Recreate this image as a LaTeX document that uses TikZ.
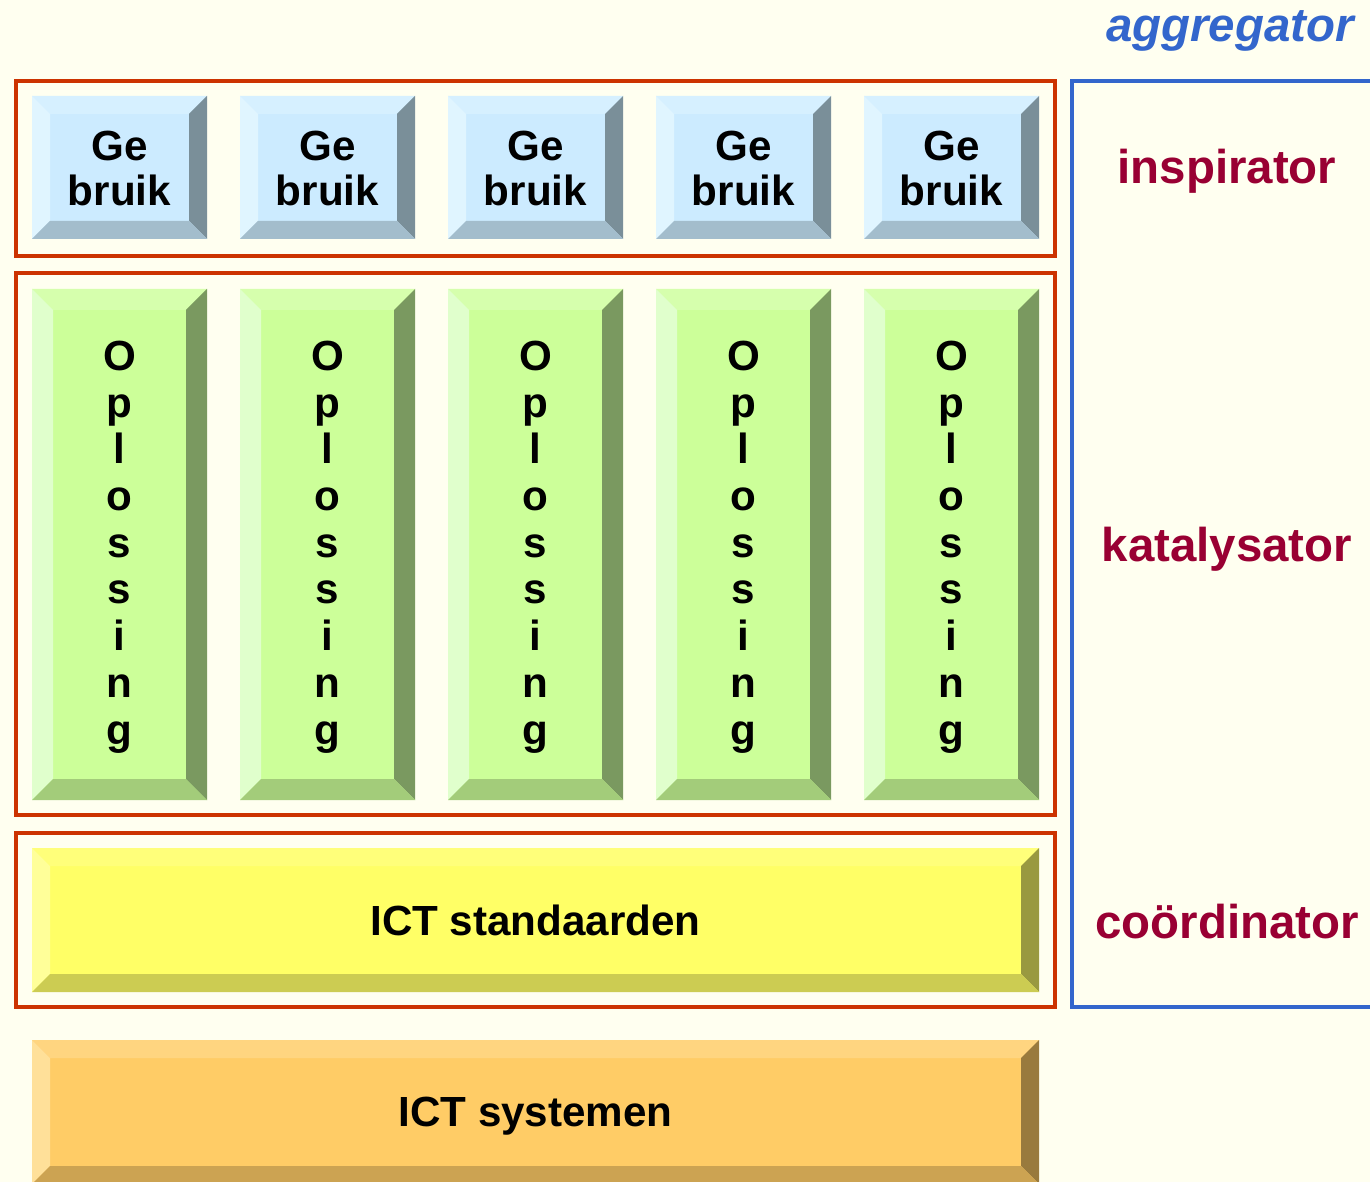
\documentclass[tikz,border=0pt]{standalone}
\usepackage{fontspec}
\setmainfont{Liberation Sans}

\definecolor{paper}{HTML}{FFFFF0}
\definecolor{framered}{HTML}{CC3300}
\definecolor{frameblue}{HTML}{3366CC}
\definecolor{rolered}{HTML}{990033}
% bevel colours: face, top, left, right, bottom
\definecolor{gbface}{HTML}{CCEBFF}\definecolor{gbtop}{HTML}{D6F0FF}\definecolor{gbleft}{HTML}{E0F5FF}
\definecolor{gbright}{HTML}{7A8F99}\definecolor{gbbot}{HTML}{A3BDCC}
\definecolor{opface}{HTML}{CCFF99}\definecolor{optop}{HTML}{D6FFAD}\definecolor{opleft}{HTML}{E0FFCC}
\definecolor{opright}{HTML}{7A9960}\definecolor{opbot}{HTML}{A3CC7A}
\definecolor{stface}{HTML}{FFFF66}\definecolor{sttop}{HTML}{FFFF7A}\definecolor{stleft}{HTML}{FFFF99}
\definecolor{stright}{HTML}{999940}\definecolor{stbot}{HTML}{CCCC52}
\definecolor{syface}{HTML}{FFCC66}\definecolor{sytop}{HTML}{FFD580}\definecolor{syleft}{HTML}{FFE099}
\definecolor{syright}{HTML}{997A3D}\definecolor{sybot}{HTML}{CCA352}

% #1,#2 top left, #3,#4 bottom right, #5 bevel width, #6 colour prefix
\newcommand{\bevelbox}[6]{%
  \fill[#6face] (#1,#2) rectangle (#3,#4);
  \fill[#6top] (#1,#2) -- (#3,#2) -- (#3-#5,#2+#5) -- (#1+#5,#2+#5) -- cycle;
  \fill[#6left] (#1,#2) -- (#1+#5,#2+#5) -- (#1+#5,#4-#5) -- (#1,#4) -- cycle;
  \fill[#6right] (#3,#2) -- (#3,#4) -- (#3-#5,#4-#5) -- (#3-#5,#2+#5) -- cycle;
  \fill[#6bot] (#1,#4) -- (#1+#5,#4-#5) -- (#3-#5,#4-#5) -- (#3,#4) -- cycle;
}

\tikzset{
  layerframe/.style={draw=framered, line width=2.3pt},
  keytext/.style={font=\bfseries\fontsize{24}{26.6}\selectfont, align=center, inner sep=0pt},
  roletext/.style={font=\bfseries\fontsize{27}{30}\selectfont, text=rolered, inner sep=0pt},
}

\begin{document}
\begin{tikzpicture}[x=0.02cm, y=-0.02cm]
    \useasboundingbox (0,0) rectangle (1370,1182);
    \fill[paper] (0,0) rectangle (1370,1182);

    % layers
    \draw[layerframe] (16,81) rectangle (1055,256);
    \draw[layerframe] (16,273) rectangle (1055,815);
    \draw[layerframe] (16,833) rectangle (1055,1007);
    \draw[draw=frameblue, line width=2.3pt] (1390,81) -- (1072,81) -- (1072,1007) -- (1390,1007);

    \foreach \i/\x in {1/32,2/240,3/448,4/656,5/864} {
        \bevelbox{\x}{96}{\x+175}{239}{18}{gb}
        \node[keytext, font=\bfseries\fontsize{24}{25.6}\selectfont] (gebruik\i) at (\x+87.5,168.5) {Ge\\bruik};
        \bevelbox{\x}{289}{\x+175}{800}{21}{op}
        \node[keytext] (oplossing\i) at (\x+87.5,547) {O\\p\\l\\o\\s\\s\\i\\n\\g};
    }

    \bevelbox{32}{848}{1039}{992}{18}{st}
    \node[keytext] (standaarden) at (535.5,920) {ICT standaarden};
    \bevelbox{32}{1040}{1039}{1184}{18}{sy}
    \node[keytext] (systemen) at (535.5,1116) {ICT systemen};

    % roles
    \node[font=\bfseries\itshape\fontsize{27}{30}\selectfont, text=frameblue, inner sep=0pt] (aggregator) at (1230,31) {aggregator};
    \node[roletext] (inspirator) at (1227,171) {inspirator};
    \node[roletext] (katalysator) at (1227,549) {katalysator};
    \node[roletext] (coordinator) at (1227,922) {coördinator};
\end{tikzpicture}
\end{document}
